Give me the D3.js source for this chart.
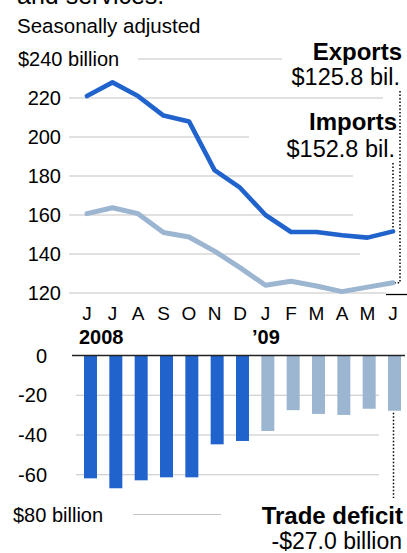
<!DOCTYPE html>
<html>
<head>
<meta charset="utf-8">
<script src="https://cdn.jsdelivr.net/npm/d3@7"></script>
<style>
  body { margin: 0; background: #fff; }
  svg text { font-family: "Liberation Sans", Arial, Helvetica, sans-serif; fill: #000; }
</style>
</head>
<body>
<svg id="chart" width="407" height="553"></svg>
<script>
// chart data
var months = ["J", "J", "A", "S", "O", "N", "D", "J", "F", "M", "A", "M", "J"];
var years = ["2008", "2008", "2008", "2008", "2008", "2008", "2008", "2009", "2009", "2009", "2009", "2009", "2009"];
var darkLine = [221, 228, 221, 211, 208, 183, 174, 160, 151.3, 151.3, 149.6, 148.4, 151.6];
var lightLine = [160.7, 163.7, 160.7, 151, 148.7, 141.5, 133, 124, 126, 123.6, 120.7, 123, 125.3];
var deficit = [-61.8, -66.8, -62.8, -61.3, -61.3, -44.7, -43, -38, -27.5, -29.4, -29.9, -26.8, -27.8];
var topTicks = [240, 220, 200, 180, 160, 140, 120];
var barTicks = [0, -20, -40, -60, -80];

var dark = "#2063cc";
var light = "#9cb5d0";
var grid = "#c4c4c4";

var svg = d3.select("#chart");

var x = d3.scalePoint().domain(d3.range(months.length)).range([87, 393]);
var xb = d3.scalePoint().domain(d3.range(months.length)).range([90.5, 394.5]);
var y = d3.scaleLinear().domain([120, 240]).range([293, 59]);
var yb = d3.scaleLinear().domain([-80, 0]).range([514.5, 355.5]);

// clipped title + subtitle
svg.append("text").attr("x", 17).attr("y", 4).style("font-size", "25px").text("and services.");
svg.append("text").attr("x", 17).attr("y", 33).style("font-size", "20.5px").text("Seasonally adjusted");

// top gridlines (start/end keep clear of labels)
var topGridX = { 240: [138, 282], 220: [69, 383], 200: [69, 249], 180: [69, 353], 160: [69, 353], 140: [69, 360], 120: [69, 386] };
topTicks.forEach(function (t) {
  svg.append("line")
    .attr("x1", topGridX[t][0]).attr("x2", topGridX[t][1])
    .attr("y1", y(t)).attr("y2", y(t))
    .attr("stroke", grid).attr("stroke-width", 1.2);
  svg.append("text")
    .attr("x", t == 240 ? 18 : 61)
    .attr("y", y(t)).attr("dy", "0.35em")
    .attr("text-anchor", t == 240 ? "start" : "end")
    .style("font-size", "20px")
    .text(t == 240 ? "$240 billion" : t);
});
svg.append("line")
  .attr("x1", 386).attr("x2", 407).attr("y1", y(120) + 1.5).attr("y2", y(120) + 1.5)
  .attr("stroke", "#000").attr("stroke-width", 1.3);

var line = d3.line().x(function (d, i) { return x(i); }).y(function (d) { return y(d); });

svg.append("path").datum(lightLine)
  .attr("d", line).attr("fill", "none")
  .attr("stroke", light).attr("stroke-width", 5)
  .attr("stroke-linejoin", "round").attr("stroke-linecap", "round");
svg.append("path").datum(darkLine)
  .attr("d", line).attr("fill", "none")
  .attr("stroke", dark).attr("stroke-width", 4.6)
  .attr("stroke-linejoin", "round").attr("stroke-linecap", "round");

// month labels
svg.selectAll(".month").data(months).enter().append("text")
  .attr("class", "month")
  .attr("x", function (d, i) { return x(i); })
  .attr("y", 320)
  .attr("text-anchor", "middle")
  .style("font-size", "19px")
  .text(function (d) { return d; });
svg.append("text").attr("x", 79).attr("y", 344).style("font-size", "20px").style("font-weight", "bold").text("2008");
svg.append("text").attr("x", 252).attr("y", 344).style("font-size", "20px").style("font-weight", "bold").text("\u201909");

// right labels
var last = months.length - 1;
svg.append("text").attr("x", 402).attr("y", 60).attr("text-anchor", "end")
  .style("font-size", "24px").style("font-weight", "bold").text("Exports");
svg.append("text").attr("x", 400).attr("y", 85).attr("text-anchor", "end")
  .style("font-size", "23.5px").text("$125.8 bil.");
svg.append("text").attr("x", 397).attr("y", 130).attr("text-anchor", "end")
  .style("font-size", "24px").style("font-weight", "bold").text("Imports");
svg.append("text").attr("x", 395).attr("y", 157).attr("text-anchor", "end")
  .style("font-size", "23.5px").text("$152.8 bil.");

var dotted = function (sel) {
  sel.attr("fill", "none").attr("stroke", "#000").attr("stroke-width", 1.5).attr("stroke-dasharray", "1.5,2");
};
svg.append("path")
  .attr("d", "M400,91 V" + y(lightLine[last]) + " H" + (x(last) + 2))
  .call(dotted);
svg.append("path")
  .attr("d", "M" + x(last) + ",163 V" + (y(darkLine[last]) - 3))
  .call(dotted);

// bar chart
var barGridX = { 0: [72, 405], "-20": [76, 379], "-40": [76, 379], "-60": [76, 379], "-80": [133, 221] };
barTicks.forEach(function (t) {
  if (t != 0) {
    svg.append("line")
      .attr("x1", barGridX[t][0]).attr("x2", barGridX[t][1])
      .attr("y1", yb(t)).attr("y2", yb(t))
      .attr("stroke", grid).attr("stroke-width", 1.2);
  }
  svg.append("text")
    .attr("x", t == -80 ? 13 : 47)
    .attr("y", yb(t)).attr("dy", "0.35em")
    .attr("text-anchor", t == -80 ? "start" : "end")
    .style("font-size", "20px")
    .text(t == -80 ? "$80 billion" : t);
});

svg.selectAll(".bar").data(deficit).enter().append("rect")
  .attr("class", "bar")
  .attr("x", function (d, i) { return xb(i) - 6.5; })
  .attr("width", 13)
  .attr("y", yb(0))
  .attr("height", function (d) { return yb(d) - yb(0); })
  .attr("fill", function (d, i) { return years[i] == "2008" ? dark : light; });

svg.append("line")
  .attr("x1", barGridX[0][0]).attr("x2", barGridX[0][1])
  .attr("y1", yb(0)).attr("y2", yb(0))
  .attr("stroke", "#222").attr("stroke-width", 1.5);

svg.append("path")
  .attr("d", "M" + (xb(last) - 1) + "," + (yb(deficit[last]) + 2) + " V498")
  .call(dotted);

svg.append("text").attr("x", 403).attr("y", 524).attr("text-anchor", "end")
  .style("font-size", "24px").style("font-weight", "bold").text("Trade deficit");
svg.append("text").attr("x", 402).attr("y", 549).attr("text-anchor", "end")
  .style("font-size", "23px").text("-$27.0 billion");
</script>
</body>
</html>
